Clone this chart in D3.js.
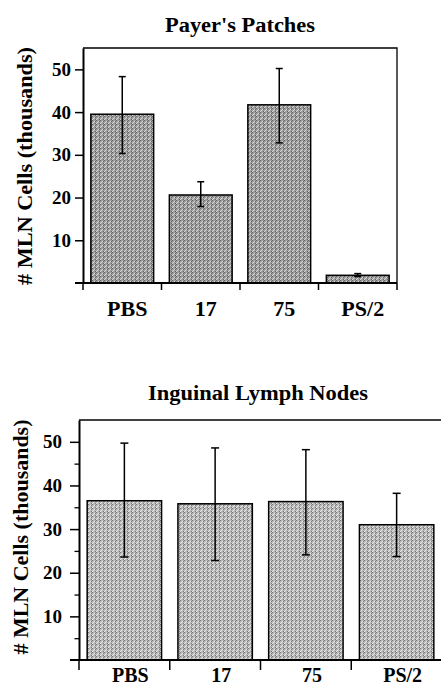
<!DOCTYPE html>
<html>
<head>
<meta charset="utf-8">
<script src="https://cdn.jsdelivr.net/npm/d3@7/dist/d3.min.js"></script>
<style>
  body { margin: 0; background: #fff; }
  svg { display: block; }
  text { font-family: "Liberation Serif", "Times New Roman", serif; font-weight: bold; fill: #000; }
</style>
</head>
<body>
<svg id="chart" width="441" height="687"></svg>
<script>
// values (thousands of cells)
const categories = ['PBS', '17', '75', 'PS/2'];

const peyerMean = [39.5, 20.6, 41.7, 1.8];
const peyerHigh = [48.3, 23.7, 50.2, 2.2];
const peyerLow = [30.3, 17.9, 32.8, 1.5];

const inguinalMean = [36.5, 35.8, 36.3, 31.0];
const inguinalHigh = [49.7, 48.6, 48.2, 38.2];
const inguinalLow = [23.6, 22.8, 24.1, 23.7];

const yTicks = [10, 20, 30, 40, 50];
const yMinorTicks = [5, 15, 25, 35, 45];
const yLabel = '# MLN Cells (thousands)';

const svg = d3.select('#chart');
const defs = svg.append('defs');

// halftone-ish texture for the bars
function makePattern(id, base, dark, light) {
  const p = defs.append('pattern')
    .attr('id', id)
    .attr('patternUnits', 'userSpaceOnUse')
    .attr('width', 4).attr('height', 4);
  p.append('rect').attr('width', 4).attr('height', 4).attr('fill', base);
  const dots = [[0, 0, dark], [2, 1, light], [1, 2, light], [3, 3, dark], [3, 1, dark], [0, 3, light]];
  p.selectAll('rect.d').data(dots).join('rect')
    .attr('class', 'd')
    .attr('x', d => d[0]).attr('y', d => d[1])
    .attr('width', 1).attr('height', 1)
    .attr('fill', d => d[2]);
}
makePattern('texTop', '#9e9e9e', '#646464', '#d6d6d6');
makePattern('texBottom', '#b8b8b8', '#7a7a7a', '#e8e8e8');

function drawPanel(cfg) {
  const g = svg.append('g');

  const x = d3.scaleBand()
    .domain(categories)
    .range([cfg.left, cfg.right])
    .paddingInner(cfg.padIn)
    .paddingOuter(cfg.padIn / 2);

  const y = d3.scaleLinear().domain([0, 55]).range([cfg.bottom, cfg.top]);

  // frame (top + right)
  g.append('path')
    .attr('d', `M${cfg.left},${cfg.top}H${cfg.frameRight}` + (cfg.rightLine ? `V${cfg.bottom}` : ''))
    .attr('fill', 'none').attr('stroke', '#000').attr('stroke-width', 1.3);

  // bars
  g.selectAll('rect.bar')
    .data(categories)
    .join('rect')
    .attr('class', 'bar')
    .attr('x', d => x(d))
    .attr('width', x.bandwidth())
    .attr('y', (d, i) => y(cfg.mean[i]))
    .attr('height', (d, i) => y(0) - y(cfg.mean[i]))
    .attr('fill', `url(#${cfg.tex})`)
    .attr('stroke', '#000')
    .attr('stroke-width', 1.5);

  // error bars
  const eb = g.selectAll('g.err')
    .data(categories)
    .join('g')
    .attr('class', 'err')
    .attr('stroke', '#000')
    .attr('stroke-width', 1.5);
  eb.append('line')
    .attr('x1', d => x(d) + x.bandwidth() / 2)
    .attr('x2', d => x(d) + x.bandwidth() / 2)
    .attr('y1', (d, i) => y(cfg.high[i]))
    .attr('y2', (d, i) => y(cfg.low[i]));
  [cfg.high, cfg.low].forEach(arr => {
    eb.append('line')
      .attr('x1', d => x(d) + x.bandwidth() / 2 - cfg.cap)
      .attr('x2', d => x(d) + x.bandwidth() / 2 + cfg.cap)
      .attr('y1', (d, i) => y(arr[i]))
      .attr('y2', (d, i) => y(arr[i]));
  });

  // y axis
  const yAxis = g.append('g')
    .attr('transform', `translate(${cfg.left},0)`)
    .call(d3.axisLeft(y).tickValues(yTicks).tickSize(cfg.tickLen).tickSizeOuter(0).tickPadding(cfg.tickPad));
  yAxis.select('.domain').attr('stroke-width', 2);
  yAxis.selectAll('.tick line').attr('stroke-width', 1.5);
  yAxis.selectAll('.tick text')
    .attr('font-size', 19)
    .attr('font-family', '"Liberation Serif", "Times New Roman", serif')
    .attr('font-weight', 'bold');

  if (cfg.minor) {
    g.append('g')
      .attr('transform', `translate(${cfg.left},0)`)
      .call(d3.axisLeft(y).tickValues(yMinorTicks).tickSize(cfg.tickLen / 2).tickFormat(''))
      .call(a => a.select('.domain').remove())
      .selectAll('.tick line').attr('stroke-width', 1.3);
  }

  // baseline and category dividers
  g.append('line')
    .attr('x1', cfg.left - cfg.tickLen).attr('x2', cfg.frameRight)
    .attr('y1', y(0)).attr('y2', y(0))
    .attr('stroke', '#000').attr('stroke-width', 2);

  const step = x.step();
  const dividers = d3.range(categories.length + 1).map(i => cfg.left + i * step);
  g.selectAll('line.div')
    .data(dividers)
    .join('line')
    .attr('class', 'div')
    .attr('x1', d => d).attr('x2', d => d)
    .attr('y1', y(0)).attr('y2', y(0) + cfg.divLen)
    .attr('stroke', '#000').attr('stroke-width', 1.5);

  // category labels
  g.selectAll('text.cat')
    .data(categories)
    .join('text')
    .attr('class', 'cat')
    .attr('x', d => x(d) + x.bandwidth() / 2 + cfg.labelShift)
    .attr('y', cfg.catBaseline)
    .attr('text-anchor', 'middle')
    .attr('font-size', cfg.catSize)
    .text(d => d);

  // title
  g.append('text')
    .attr('x', cfg.titleX).attr('y', cfg.titleY)
    .attr('text-anchor', 'middle')
    .attr('font-size', 20)
    .attr('textLength', cfg.titleLen)
    .attr('lengthAdjust', 'spacingAndGlyphs')
    .text(cfg.title);

  // y label
  g.append('text')
    .attr('transform', `translate(${cfg.ylabX},${cfg.ylabY}) rotate(-90)`)
    .attr('text-anchor', 'middle')
    .attr('font-size', cfg.ylabSize)
    .attr('textLength', cfg.ylabLen)
    .attr('lengthAdjust', 'spacingAndGlyphs')
    .text(yLabel);
}

drawPanel({
  mean: peyerMean, high: peyerHigh, low: peyerLow,
  left: 83, right: 397, frameRight: 397, rightLine: true,
  top: 48, bottom: 283, padIn: 0.2,
  tex: 'texTop', cap: 3.5, tickLen: 8, tickPad: 4, minor: false,
  divLen: 7, catBaseline: 316, catSize: 22, labelShift: 5,
  title: "Payer's Patches", titleX: 240, titleY: 32, titleLen: 150,
  ylabX: 32, ylabY: 166, ylabSize: 22, ylabLen: 238
});

drawPanel({
  mean: inguinalMean, high: inguinalHigh, low: inguinalLow,
  left: 79, right: 442, frameRight: 441, rightLine: false,
  top: 420, bottom: 660, padIn: 0.18,
  tex: 'texBottom', cap: 4, tickLen: 9, tickPad: 8, minor: true,
  divLen: 10, catBaseline: 682, catSize: 20, labelShift: 6,
  title: 'Inguinal Lymph Nodes', titleX: 258, titleY: 400, titleLen: 220,
  ylabX: 28, ylabY: 537, ylabSize: 21, ylabLen: 235
});
</script>
</body>
</html>
